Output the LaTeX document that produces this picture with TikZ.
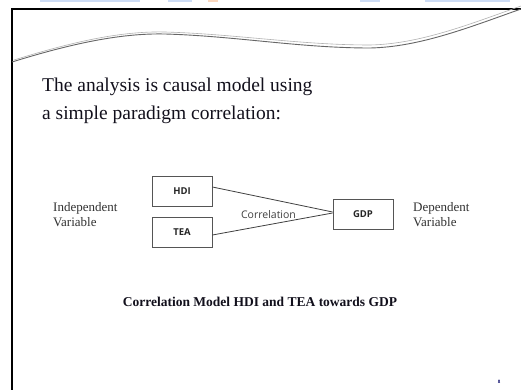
\documentclass[tikz,border=0pt]{standalone}
\usepackage{fontspec}
\setmainfont{Liberation Serif}
\setsansfont{Open Sans}
\definecolor{headtxt}{RGB}{18,16,28}
\definecolor{labtxt}{RGB}{50,50,50}
\definecolor{boxline}{RGB}{85,85,85}
\definecolor{tabblue}{RGB}{205,220,245}
\definecolor{taborange}{RGB}{250,215,190}
\begin{document}
\begin{tikzpicture}[x=1pt,y=-1pt,
  varbox/.style={draw=boxline, line width=0.8pt, minimum width=60pt, minimum height=30pt,
    inner sep=0pt, font=\sffamily\bfseries\fontsize{9.5}{10}\selectfont, text=black!85},
  link/.style={draw=black!75, line width=0.8pt},
  sidelabel/.style={font=\fontsize{13}{15}\selectfont, text=labtxt, align=left, anchor=west, inner sep=0pt},
  headline/.style={font=\fontsize{19.5}{22}\selectfont, text=headtxt, anchor=base west, inner sep=0pt}]
\useasboundingbox (0,0) rectangle (521,390);
\fill[white] (0,0) rectangle (521,390);

% faint tab strip along the top edge
\fill[tabblue] (40,0) rectangle (140,2);
\fill[tabblue] (168,0) rectangle (192,2);
\fill[taborange] (208,0) rectangle (218,2);
\fill[tabblue] (360,0) rectangle (380,2);
\fill[tabblue] (425,0) rectangle (510,2);

% slide frame
\draw[black, line width=2pt] (12,390) -- (12,9) -- (521,9);

% decorative wave
\draw[black!60, line width=0.9pt] (12,62) .. controls (70,44) and (120,33) .. (165,34)
  .. controls (235,36) and (300,48) .. (370,48)
  .. controls (420,47) and (470,27) .. (521,9);
\draw[black!30, line width=0.6pt] (14,60) .. controls (72,42) and (120,31) .. (165,32)
  .. controls (235,34) and (300,45) .. (370,45)
  .. controls (420,44) and (470,24) .. (521,6);

% heading
\node[headline] (h1) at (42,92) {The analysis is causal model using};
\node[headline] (h2) at (42,120) {a simple paradigm correlation:};

% model boxes
\node[varbox] (hdi) at (182,191) {HDI};
\node[varbox] (tea) at (182,232.5) {TEA};
\node[varbox] (gdp) at (363,214) {GDP};

% connectors (yshift is measured upwards on the page)
\coordinate (hdiout) at ([yshift=4pt]hdi.east);
\coordinate (teaout) at ([yshift=-2.5pt]tea.east);
\coordinate (gdpin1) at ([yshift=2pt]gdp.west);
\coordinate (gdpin2) at ([yshift=1pt]gdp.west);
\draw[link] (hdiout) -- (gdpin1);
\draw[link] (teaout) -- (gdpin2);
\node[font=\sffamily\fontsize{10.5}{11}\selectfont, text=black!75, inner sep=0pt] (corr) at (268.5,215) {Correlation};

% side labels
\node[sidelabel] (indep) at (53,215) {Independent\\Variable};
\node[sidelabel] (dep) at (413,215) {Dependent\\Variable};

% caption
\node[font=\bfseries\fontsize{13.5}{15}\selectfont, text=headtxt, inner sep=0pt] (cap) at (260,302)
  {Correlation Model HDI and TEA towards GDP};

% page number
\node[font=\bfseries\fontsize{5}{5}\selectfont, text=black!60!blue, inner sep=0pt] (pg) at (499,382) {8};
\end{tikzpicture}
\end{document}
